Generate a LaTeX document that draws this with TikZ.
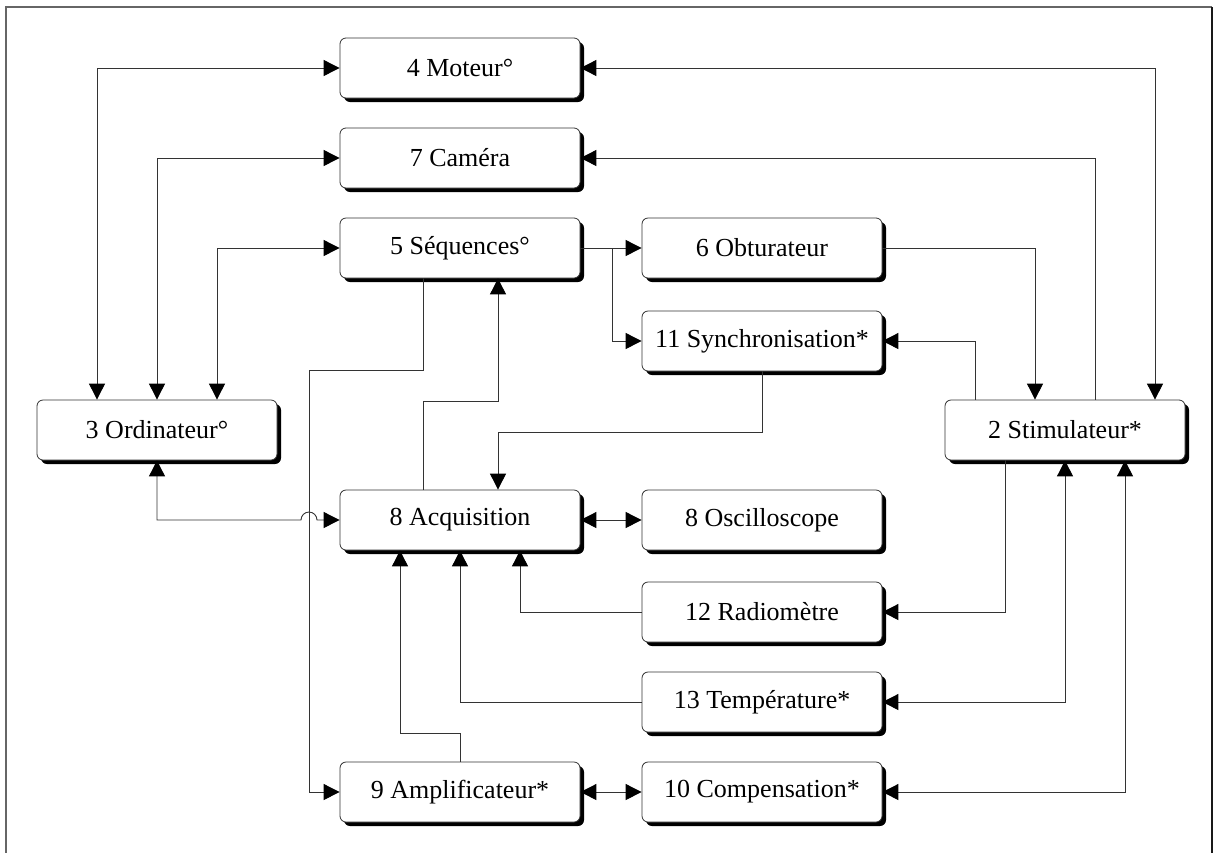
\documentclass[tikz,border=0pt]{standalone}
\usepackage{fontspec}
\setmainfont{Liberation Serif}
\usetikzlibrary{arrows.meta,shadows}
\begin{document}
\begin{tikzpicture}[x=1pt,y=-1pt,
  box/.style={draw=black!80, line width=0.8pt, rounded corners=6pt, fill=white,
    minimum width=240pt, minimum height=60pt, inner sep=0pt,
    font=\fontsize{26}{30}\selectfont,
    drop shadow={opacity=1, fill=black, shadow xshift=4pt, shadow yshift=-4pt}},
  tip/.tip={Triangle[length=16pt,width=16pt,color=black]},
  conn/.style={draw=black!80, line width=0.9pt, -tip},
  conntwo/.style={draw=black!80, line width=0.9pt, tip-tip},
  frame/.style={line width=1.5pt}
]
\useasboundingbox (0,0) rectangle (1217,852);
\draw[frame, black!60] (6,853) -- (6,7) -- (1212,7);
\draw[frame, black!90] (1212,7) -- (1212,853);

\node[box] (moteur) at (460,68) {4 Moteur°};
\node[box] (camera) at (460,158) {7 Caméra};
\node[box] (seq) at (460,248) {5 Séquences°};
\node[box] (obt) at (762,248) {6 Obturateur};
\node[box] (sync) at (762,341) {11 Synchronisation*};
\node[box] (ordi) at (157,430) {3 Ordinateur°};
\node[box] (stim) at (1065,430) {2 Stimulateur*};
\node[box] (acq) at (460,520) {8 Acquisition};
\node[box] (osc) at (762,520) {8 Oscilloscope};
\node[box] (radio) at (762,612) {12 Radiomètre};
\node[box] (temp) at (762,702) {13 Température*};
\node[box] (ampli) at (460,792) {9 Amplificateur*};
\node[box] (comp) at (762,792) {10 Compensation*};

\coordinate (br) at (612,248);
\coordinate (k1) at (498,432);
\coordinate (k2) at (498,401);
\coordinate (k3) at (309,370);
\coordinate (k4) at (400,733);
\coordinate (hop) at (301,520);

\draw[conntwo] ([xshift=-60pt]ordi.north) |- (moteur.west);
\draw[conntwo] (ordi.north) |- (camera.west);
\draw[conntwo] ([xshift=60pt]ordi.north) |- (seq.west);
\draw[conntwo] (moteur.east) -| ([xshift=90pt]stim.north);
\draw[conn] ([xshift=30pt]stim.north) |- (camera.east);
\draw[conn] (seq.east) -- (obt.west);
\draw[conn] (br) |- (sync.west);
\draw[conn] (obt.east) -| ([xshift=-30pt]stim.north);
\draw[conn] ([xshift=-90pt]stim.north) |- (sync.east);
\draw[conn] (sync.south) |- (k1) -- ([xshift=38pt]acq.north);
\draw[conn] ([xshift=-37pt]acq.north) |- (k2) -- ([xshift=38pt]seq.south);
\draw[conn] ([xshift=-37pt]seq.south) |- (k3) |- (ampli.west);
\draw[conntwo] (ordi.south) |- (hop) arc[start angle=180, end angle=0, radius=8pt] -- (acq.west);
\draw[conntwo] (acq.east) -- (osc.west);
\draw[conn] ([xshift=-60pt]stim.south) |- (radio.east);
\draw[conn] (radio.west) -| ([xshift=60pt]acq.south);
\draw[conntwo] (temp.east) -| (stim.south);
\draw[conn] (temp.west) -| (acq.south);
\draw[conn] (ampli.north) |- (k4) -- ([xshift=-60pt]acq.south);
\draw[conntwo] (ampli.east) -- (comp.west);
\draw[conntwo] (comp.east) -| ([xshift=60pt]stim.south);
\end{tikzpicture}
\end{document}
